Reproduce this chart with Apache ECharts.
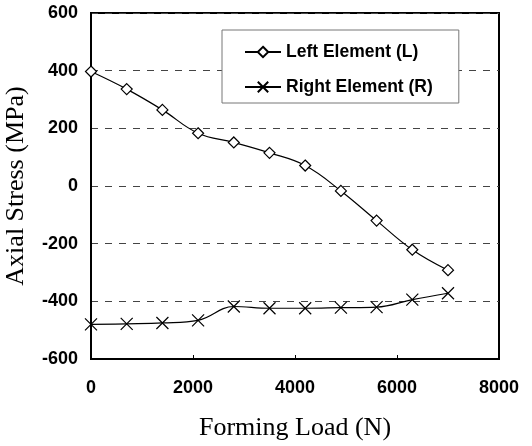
<!DOCTYPE html>
<html><head><meta charset="utf-8">
<script src="https://cdn.jsdelivr.net/npm/echarts@6/dist/echarts.min.js"></script>
<style>html,body{margin:0;padding:0;background:#fff}#c{width:532px;height:446px}</style>
</head><body><div id="c"></div>
<script>
const loads = [0, 700, 1400, 2100, 2800, 3500, 4200, 4900, 5600, 6300, 7000];
const leftStress = [397, 336, 264, 183, 151, 115, 71, -17, -120, -221, -292];
const rightStress = [-480, -478, -475, -466, -418, -424, -424, -422, -420, -394, -372];
const seriesNames = ['Left Element (L)', 'Right Element (R)'];

const chart = echarts.init(document.getElementById('c'));
const crossPath = 'path://M0,0L10,10M10,0L0,10';
chart.setOption({
  animation: false,
  backgroundColor: '#fff',
  grid: {left: 91, right: 33, top: 13, bottom: 87, show: true, borderColor: '#000', borderWidth: 2,
    containLabel: false, outerBoundsMode: 'none'},
  legend: {
    orient: 'vertical', left: 222, top: 30,
    padding: [12, 26, 6, 22], itemGap: 15,
    backgroundColor: '#fff', borderColor: '#777', borderWidth: 1,
    itemWidth: 36, itemHeight: 13,
    textStyle: {fontFamily: 'Liberation Sans, Arial', fontWeight: 'bold', fontSize: 17.5, lineHeight: 20, color: '#000'},
    data: seriesNames
  },
  xAxis: {
    type: 'value', min: 0, max: 8000, interval: 2000,
    name: 'Forming Load (N)', nameLocation: 'middle', nameGap: 56,
    nameTextStyle: {fontFamily: 'Liberation Serif, Times New Roman', fontSize: 26, color: '#000'},
    axisLine: {onZero: false, lineStyle: {color: '#000', width: 2}},
    axisTick: {inside: true, length: 4, lineStyle: {color: '#000'}},
    axisLabel: {fontFamily: 'Liberation Sans, Arial', fontWeight: 'bold', fontSize: 18, color: '#000', margin: 20,
      formatter: v => String(v)},
    splitLine: {show: false}
  },
  yAxis: {
    type: 'value', min: -600, max: 600, interval: 200,
    name: 'Axial Stress (MPa)', nameLocation: 'middle', nameGap: 62,
    nameTextStyle: {fontFamily: 'Liberation Serif, Times New Roman', fontSize: 26, color: '#000'},
    axisLine: {onZero: false, lineStyle: {color: '#000', width: 2}},
    axisTick: {show: false},
    axisLabel: {fontFamily: 'Liberation Sans, Arial', fontWeight: 'bold', fontSize: 18, color: '#000', margin: 13,
      formatter: v => String(v)},
    splitLine: {show: true, lineStyle: {color: '#444', type: [7, 7], width: 1}}
  },
  series: [
    {
      name: seriesNames[0], type: 'line', smooth: 0.4,
      data: loads.map((x, i) => [x, leftStress[i]]),
      symbol: 'diamond', symbolSize: 11, showAllSymbol: true,
      lineStyle: {color: '#000', width: 1.2},
      itemStyle: {color: '#fff', borderColor: '#000', borderWidth: 1.2},
      z: 3
    },
    {
      name: seriesNames[1], type: 'line', smooth: 0.4,
      data: loads.map((x, i) => [x, rightStress[i]]),
      symbol: crossPath, symbolSize: 12, showAllSymbol: true,
      lineStyle: {color: '#000', width: 1.2},
      itemStyle: {color: '#fff', borderColor: '#000', borderWidth: 1.2},
      z: 3
    }
  ]
});
</script></body></html>
